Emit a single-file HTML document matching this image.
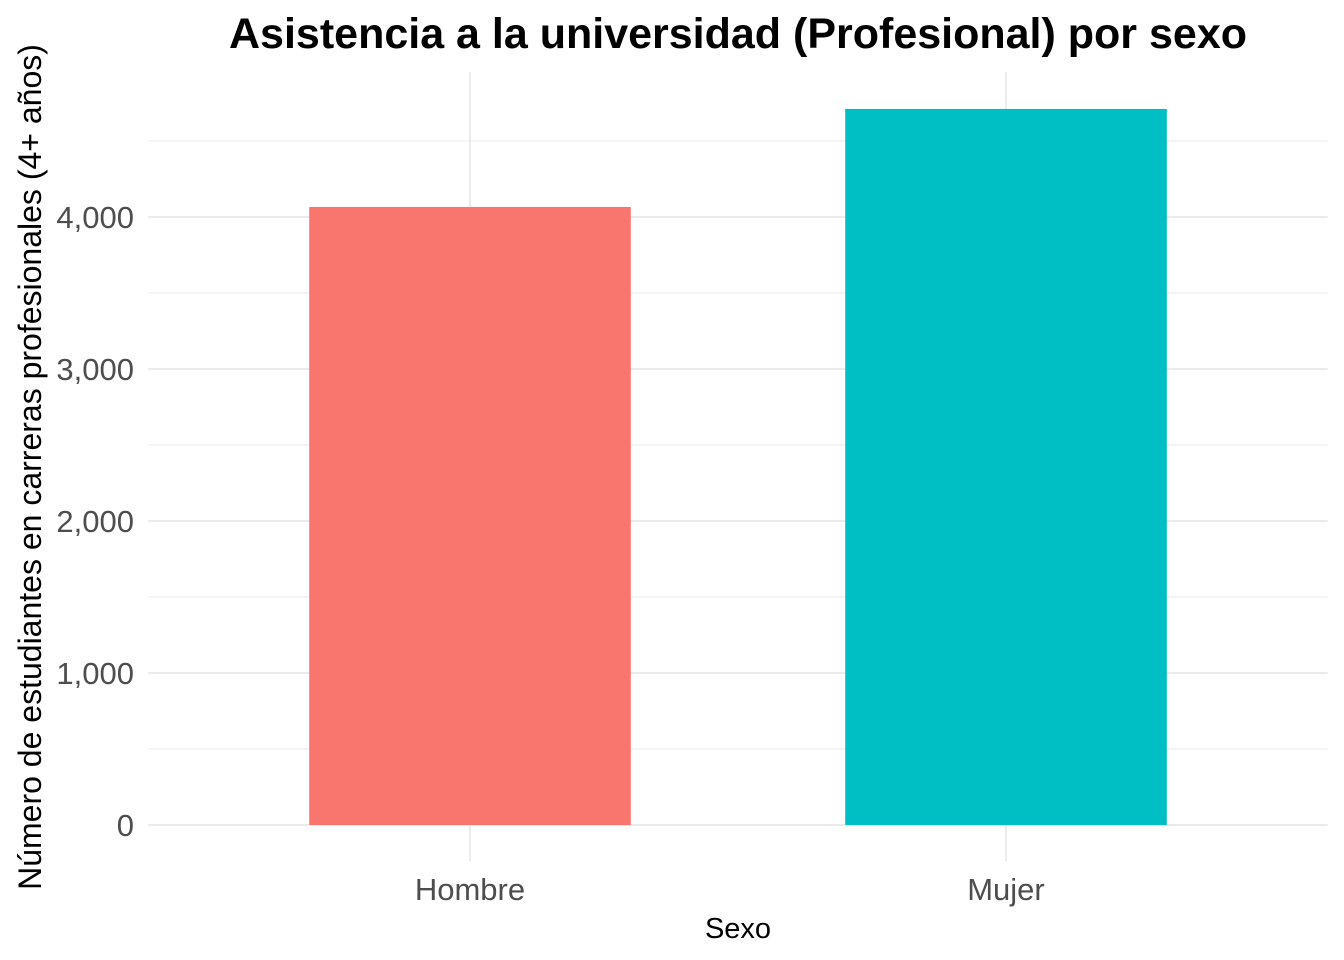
<!DOCTYPE html>
<html><head><meta charset="utf-8"><style>
body{margin:0;background:#fff;}
svg{display:block;font-family:"Liberation Sans",Arial,sans-serif;}
</style></head><body>
<svg id="chart" width="1344" height="960">
<rect width="1344" height="960" fill="#fff"/>
<g id="grid"></g><g id="bars"></g><g id="axes"></g>
<text x="738" y="48" text-anchor="middle" font-size="43" font-weight="bold" fill="#000">Asistencia a la universidad (Profesional) por sexo</text>
<text x="738" y="938" text-anchor="middle" font-size="29" fill="#000">Sexo</text>
<text transform="translate(41,467) rotate(-90)" text-anchor="middle" font-size="32" fill="#000">Número de estudiantes en carreras profesionales (4+ años)</text>
</svg>
<script>
const categories=["Hombre","Mujer"];
const values=[4066,4711];
const colors=["#F8766D","#00BFC4"];
const yTicks=[0,1000,2000,3000,4000];
const yTickLabels=["0","1,000","2,000","3,000","4,000"];
const yMinor=[500,1500,2500,3500,4500];
const NS="http://www.w3.org/2000/svg";
const pl=148.4,pr=1327.6,y0=825,pxPer=0.152;
const yS=v=>y0-v*pxPer;
const unit=(pr-pl)/(categories.length-1+1.2);
const xS=i=>pl+(0.6+i)*unit;
const panelTop=72,panelBot=861;
function mk(t,a,p){const e=document.createElementNS(NS,t);for(const k in a)e.setAttribute(k,a[k]);p.appendChild(e);return e;}
const g=document.getElementById('grid'),b=document.getElementById('bars'),ax=document.getElementById('axes');
yMinor.forEach(v=>{const l=mk('line',{x1:pl,x2:pr,y1:yS(v),y2:yS(v),stroke:'#ebebeb','stroke-width':1},g);

});
yTicks.forEach((v,i)=>{const l=mk('line',{x1:pl,x2:pr,y1:yS(v),y2:yS(v),stroke:'#ebebeb','stroke-width':2},g);


const t=mk('text',{x:134,y:yS(v)+11,'text-anchor':'end','font-size':31,fill:'#4d4d4d'},ax);t.textContent=yTickLabels[i];

});
categories.forEach((c,i)=>{const l=mk('line',{x1:xS(i),x2:xS(i),y1:panelTop,y2:panelBot,stroke:'#ebebeb','stroke-width':2},g);


const w=0.6*unit;
const r=mk('rect',{x:xS(i)-w/2,y:yS(values[i]),width:w,height:y0-yS(values[i]),fill:colors[i]},b);


const t=mk('text',{x:xS(i),y:900,'text-anchor':'middle','font-size':31,fill:'#4d4d4d'},ax);t.textContent=c;

});
</script>
</body></html>
